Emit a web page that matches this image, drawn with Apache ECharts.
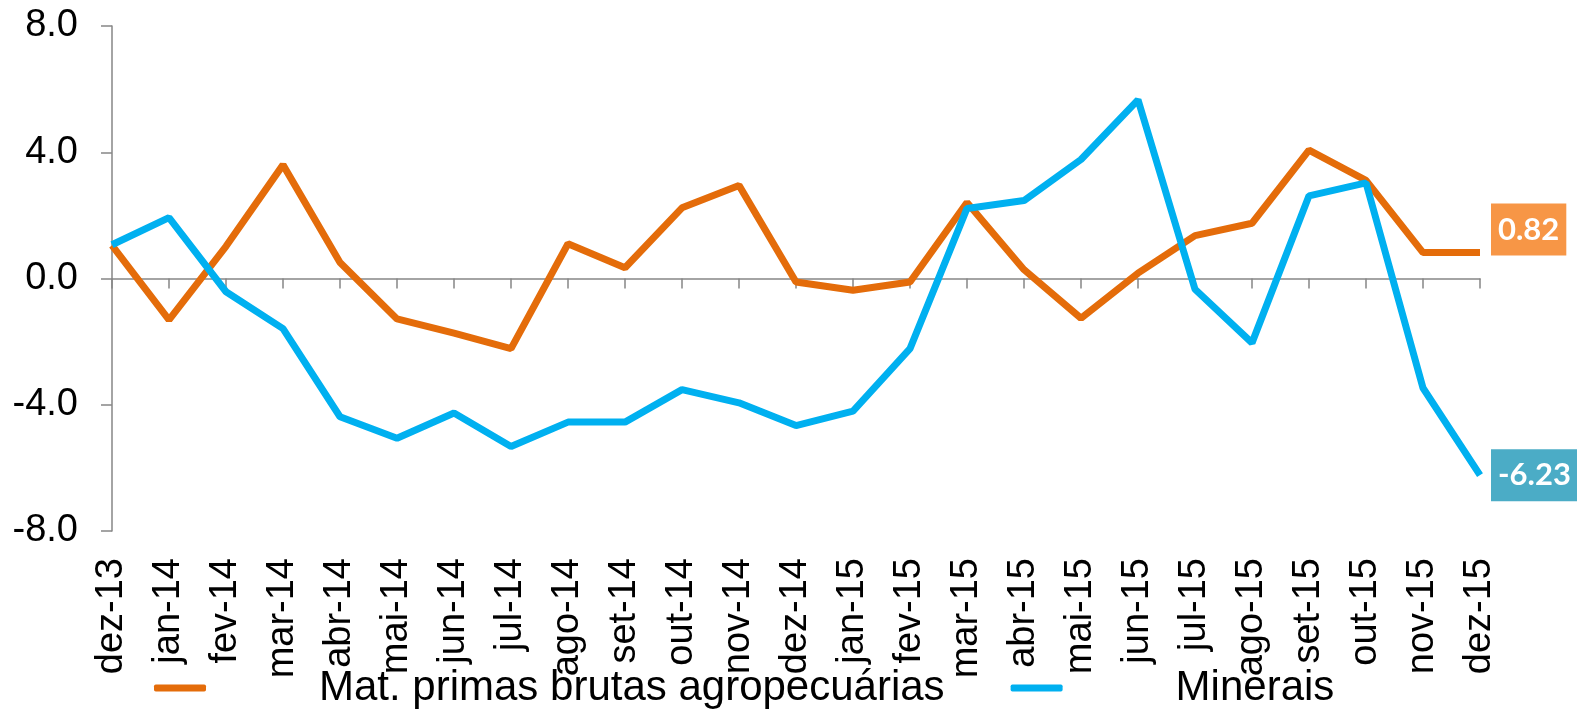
<!DOCTYPE html>
<html>
<head>
<meta charset="utf-8">
<script src="https://cdn.jsdelivr.net/npm/echarts@6/dist/echarts.min.js"></script>
<style>
  html, body { margin: 0; padding: 0; background: #fff; }
  #chart { width: 1577px; height: 709px; }
</style>
</head>
<body>
<div id="chart"></div>
<script>
// months on the x axis
var months = ['dez-13', 'jan-14', 'fev-14', 'mar-14', 'abr-14', 'mai-14', 'jun-14', 'jul-14',
              'ago-14', 'set-14', 'out-14', 'nov-14', 'dez-14', 'jan-15', 'fev-15', 'mar-15',
              'abr-15', 'mai-15', 'jun-15', 'jul-15', 'ago-15', 'set-15', 'out-15', 'nov-15', 'dez-15'];

var agroValues = [1.05, -1.31, 1.02, 3.60, 0.51, -1.28, -1.73, -2.22, 1.10, 0.34, 2.24, 2.95,
                  -0.11, -0.37, -0.11, 2.41, 0.28, -1.26, 0.17, 1.36, 1.75, 4.07, 3.11, 0.82, 0.82];

var mineraisValues = [1.07, 1.93, -0.42, -1.59, -4.38, -5.06, -4.26, -5.32, -4.55, -4.55, -3.52, -3.94,
                      -4.66, -4.20, -2.22, 2.22, 2.47, 3.77, 5.66, -0.34, -2.04, 2.62, 3.03, -3.47, -6.23];

var seriesNames = ['Mat. primas brutas agropecuárias', 'Minerais'];
var yTicks = [-8, -4, 0, 4, 8];

var chart = echarts.init(document.getElementById('chart'));

var axisGray = '#868686';
var font = 'Liberation Sans, Arial, sans-serif';

// end-of-line value box
function endBox(bg, offset) {
    return {
        show: true,
        distance: 11,
        offset: offset,
        formatter: function (p) { return p.value.toFixed(2); },
        color: '#fff',
        fontFamily: 'Lato, sans-serif',
        fontWeight: 'bold',
        fontSize: 31,
        backgroundColor: bg,
        padding: [11, 7, 10, 7]
    };
}

var option = {
    animation: false,
    grid: { left: 112, right: 97, top: 26, bottom: 178 },
    legend: {
        left: 149,
        top: 662,
        itemWidth: 52,
        itemHeight: 7,
        itemGap: 66,
        icon: 'roundRect',
        textStyle: {
            fontFamily: font,
            fontSize: 42,
            color: '#000',
            padding: [0, 0, 0, 108]
        },
        data: seriesNames
    },
    xAxis: [{
        type: 'category',
        data: months,
        boundaryGap: false,
        axisLine: { onZero: true, lineStyle: { color: axisGray, width: 1.5 } },
        axisTick: { show: true, length: 10, inside: false, lineStyle: { color: axisGray, width: 1.5 } },
        axisLabel: { show: false }
    }, {
        type: 'category',
        data: months,
        boundaryGap: false,
        position: 'bottom',
        axisLine: { show: false, onZero: false },
        axisTick: { show: false },
        axisLabel: {
            rotate: 90,
            margin: 27,
            interval: 0,
            fontFamily: font,
            fontSize: 38,
            color: '#000'
        }
    }],
    yAxis: {
        type: 'value',
        min: yTicks[0],
        max: yTicks[yTicks.length - 1],
        interval: 4,
        splitLine: { show: false },
        axisLine: { show: true, lineStyle: { color: axisGray, width: 1.5 } },
        axisTick: { show: true, length: 11, lineStyle: { color: axisGray, width: 1.5 } },
        axisLabel: {
            margin: 34,
            fontFamily: font,
            fontSize: 38,
            color: '#000',
            formatter: function (v) { return v.toFixed(1); }
        }
    },
    series: [{
        name: seriesNames[0],
        type: 'line',
        data: agroValues,
        showSymbol: false,
        color: '#E46C0A',
        lineStyle: { width: 7, color: '#E46C0A' },
        endLabel: endBox('#F79646', [0, -23])
    }, {
        name: seriesNames[1],
        type: 'line',
        data: mineraisValues,
        showSymbol: false,
        color: '#00B0F0',
        lineStyle: { width: 7, color: '#00B0F0' },
        endLabel: endBox('#4BACC6', [0, 0])
    }]
};

chart.setOption(option);
</script>
</body>
</html>
